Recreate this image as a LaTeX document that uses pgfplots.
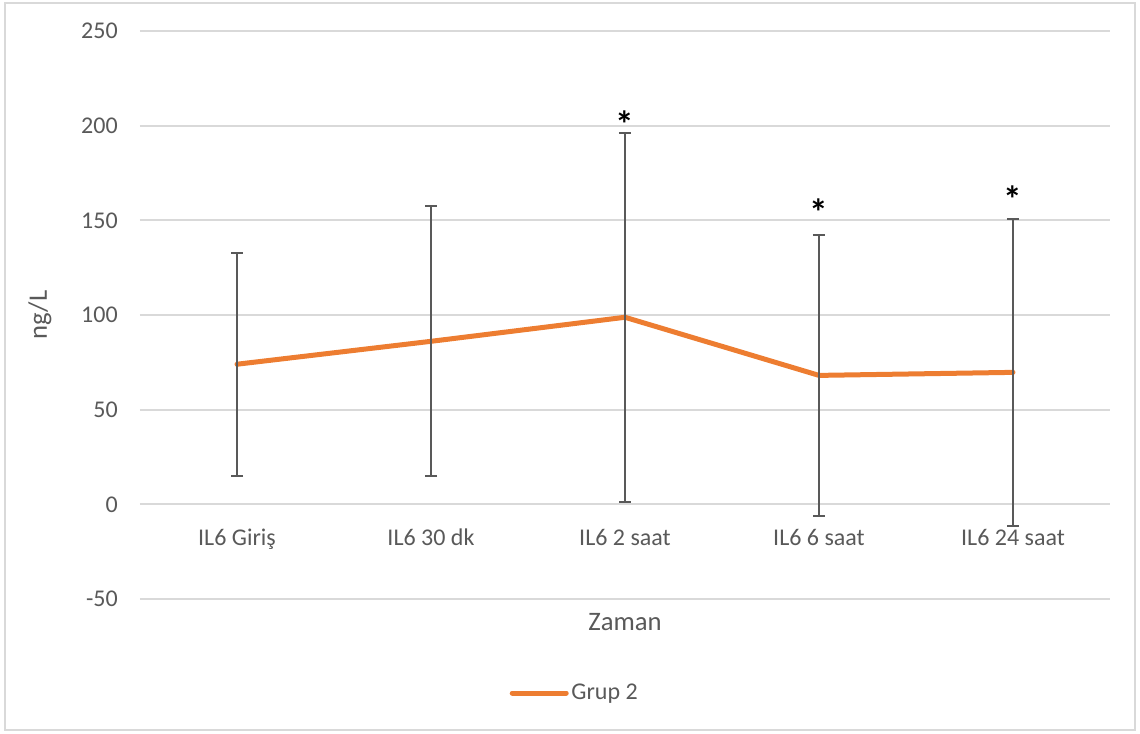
\documentclass[border=0pt]{standalone}
\usepackage{pgfplots}
\pgfplotsset{compat=1.18}
\usepackage{fontspec}
\setmainfont{Carlito}
\definecolor{orangeS}{HTML}{ED7D31}
\definecolor{txtgray}{HTML}{595959}
\definecolor{gridgray}{HTML}{D9D9D9}
\begin{document}
\begin{tikzpicture}[x=0.75pt,y=0.75pt]
\useasboundingbox (0,0) rectangle (1140,733);
\draw[gridgray, line width=1.5pt] (5,3) rectangle (1135,730);
\begin{axis}[
 at={(105pt,100.5pt)}, anchor=south west,
 scale only axis, width=727.5pt, height=426pt,
 xmin=-0.5, xmax=4.5, ymin=-50, ymax=250,
 xtick={0,...,4},
 xticklabels={IL6 Giriş, IL6 30 dk, IL6 2 saat, IL6 6 saat, IL6 24 saat},
 ytick={-50,0,...,250},
 ymajorgrids, major grid style={gridgray, line width=1.5pt},
 axis line style={draw=none},
 major tick length=0pt,
 /pgf/number format/assume math mode=true,
 tick label style={font=\fontsize{18}{20}\selectfont, text=txtgray},
 yticklabel style={anchor=east, inner sep=0pt, xshift=-16.5pt},
 xticklabel style={anchor=base, yshift=40.5pt},
 xlabel={Zaman}, ylabel={ng/L},
 label style={font=\fontsize{20}{24}\selectfont, text=txtgray},
 xlabel style={at={(axis description cs:0.5,-0.0405)}, anchor=center},
 ylabel style={at={(axis description cs:-0.1031,0.5)}, anchor=center},
 legend style={at={(axis description cs:0.4485,-0.1655)}, anchor=center, draw=none, fill=none,
   font=\fontsize{18}{20}\selectfont, text=txtgray},
 legend image code/.code={\draw[#1] (0pt,0pt) -- (40.5pt,0pt);},
]
\addplot[orangeS, line width=3.75pt, line cap=round, line join=round, mark=none,
 error bars/.cd, y dir=both, y explicit,
 error bar style={draw=txtgray, line width=1.5pt, line cap=butt},
 error mark options={draw=txtgray, line width=1.5pt, mark size=4.5pt, rotate=90}]
 coordinates {
 (0,74) +- (0,59)
 (1,86.1) +- (0,71.3)
 (2,98.8) +- (0,97.5)
 (3,68.1) +- (0,74)
 (4,69.7) +- (0,81)
 };
\addlegendentry{Grup 2}
\addplot[draw=none, mark=none, forget plot,
 nodes near coords={\bfseries *},
 every node near coord/.style={anchor=base, font=\fontsize{28}{30}\selectfont, text=black}]
 coordinates {(2,194.0) (3,147.5) (4,154.4)};
\end{axis}
\end{tikzpicture}
\end{document}
